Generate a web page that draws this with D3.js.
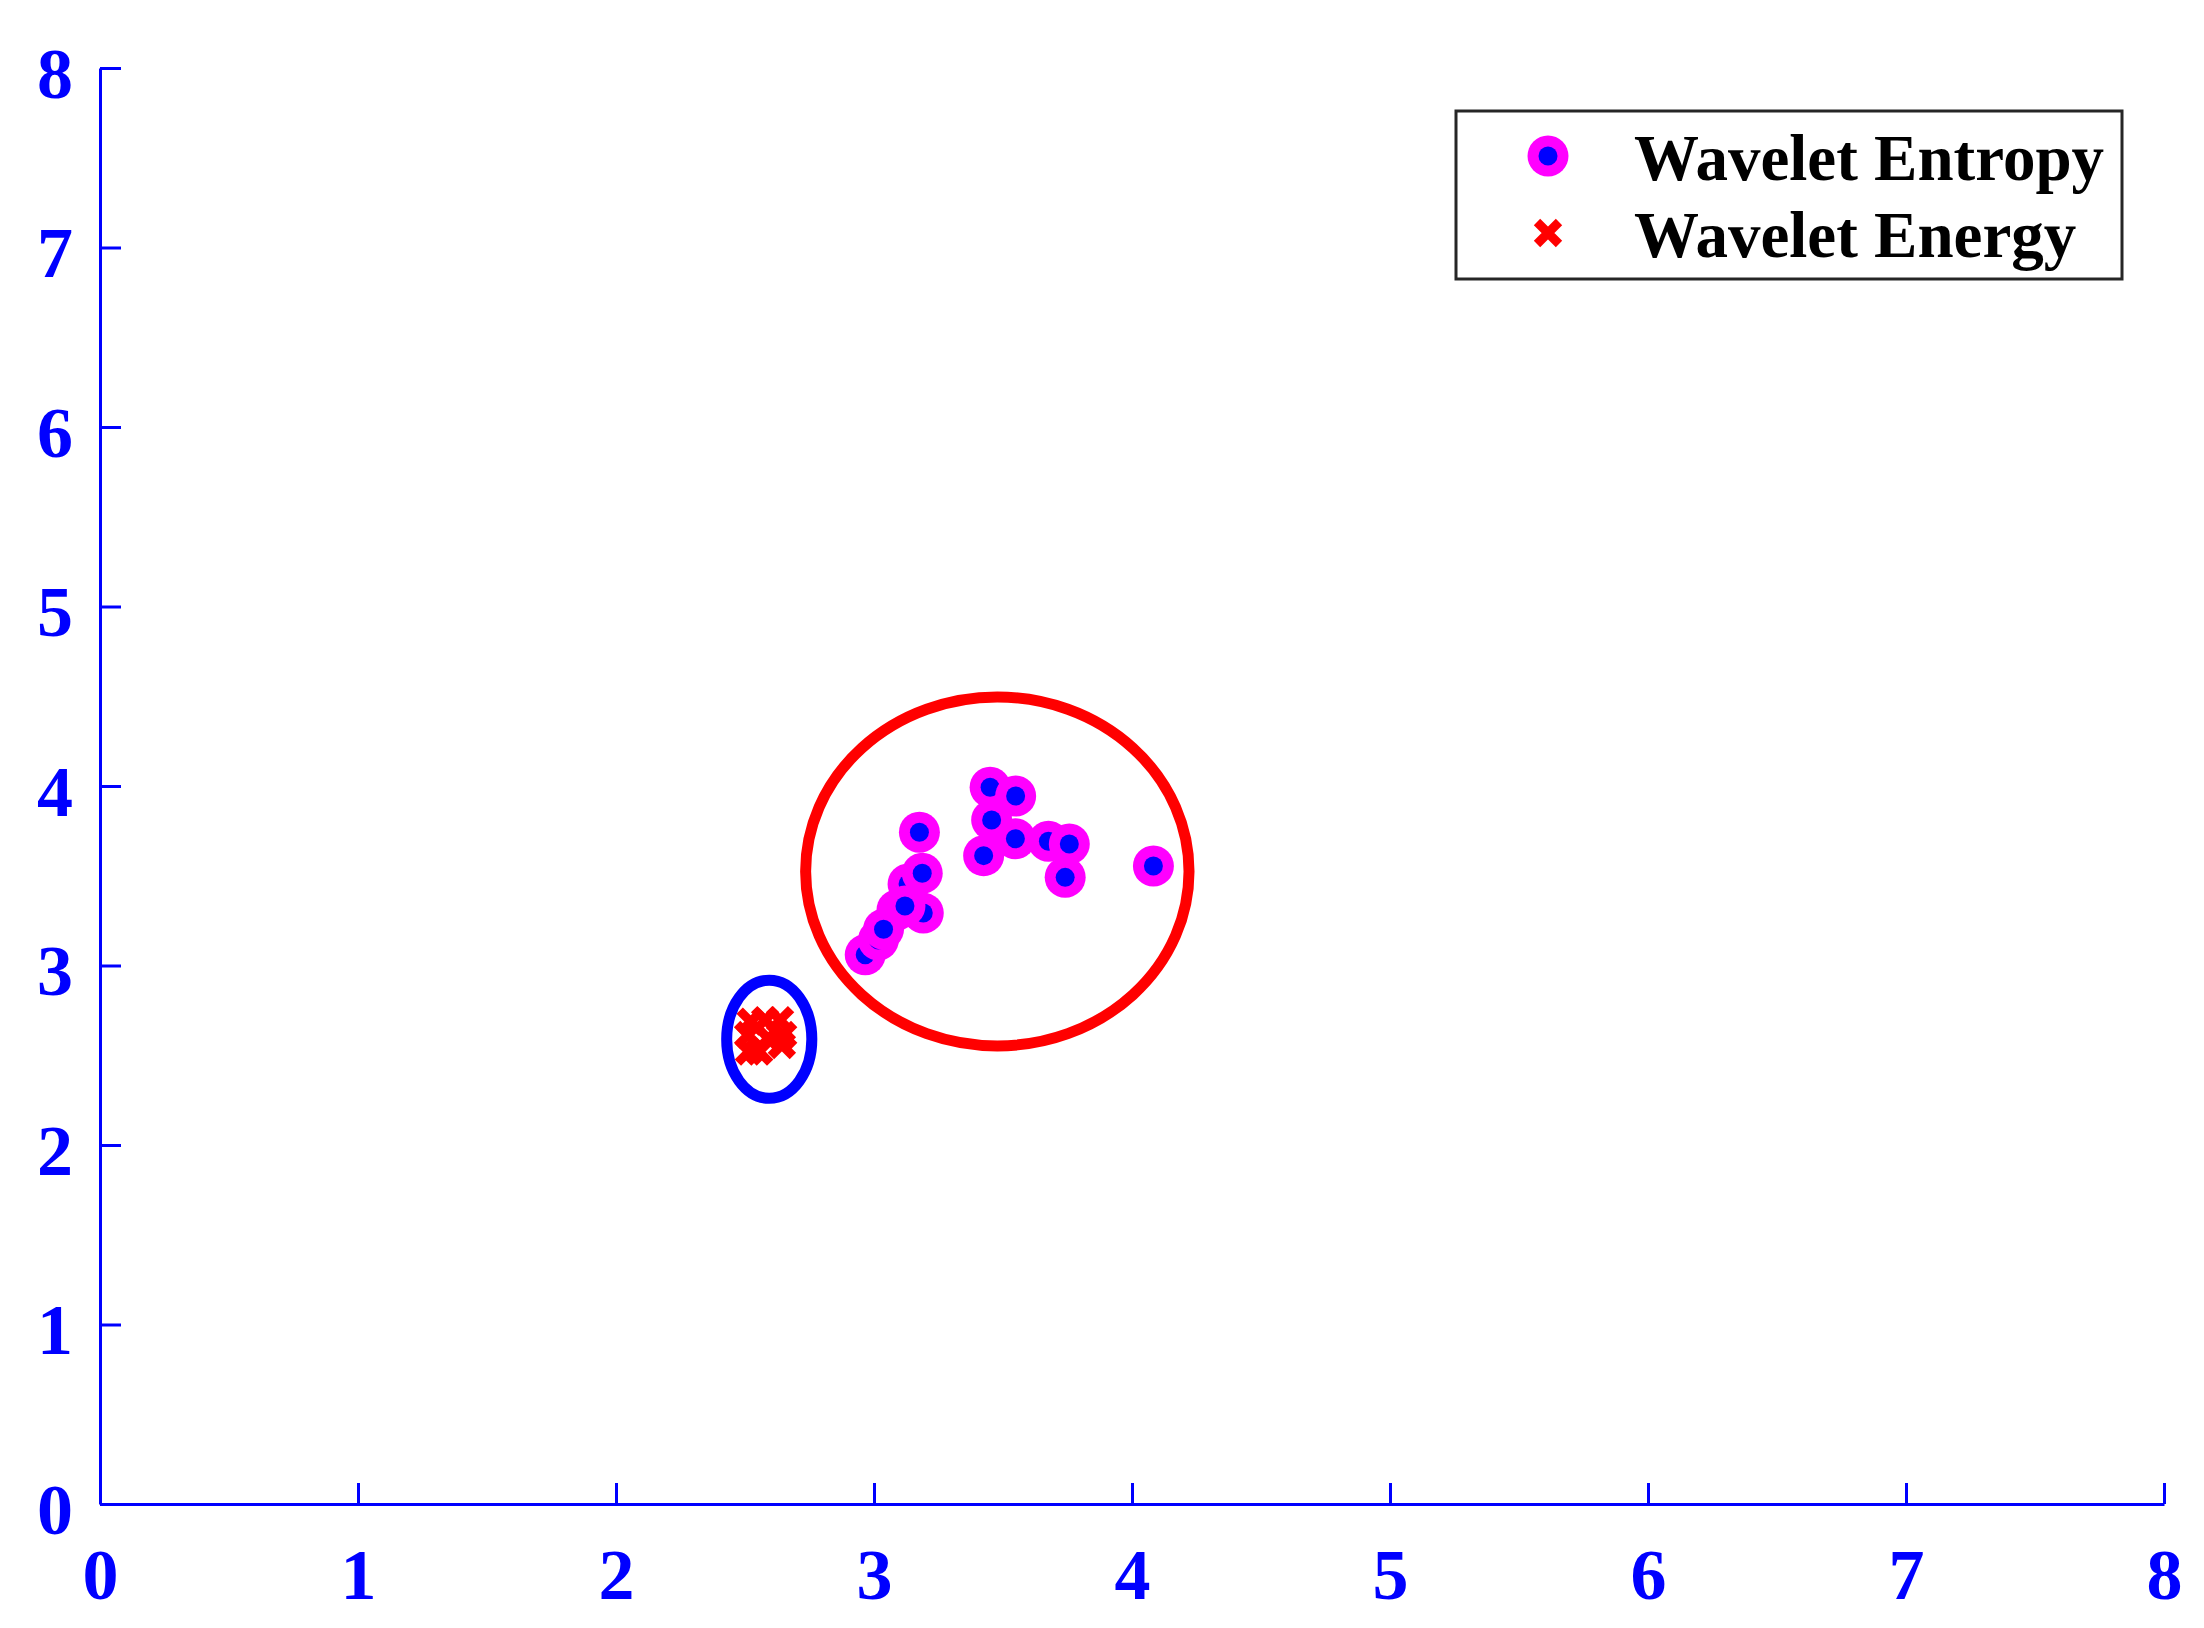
<!DOCTYPE html>
<html>
<head>
<meta charset="utf-8">
<script src="https://cdn.jsdelivr.net/npm/d3@7"></script>
<style>
  html, body { margin: 0; padding: 0; background: #fff; }
  svg { display: block; }
</style>
</head>
<body>
<script>
// ---- Data ----
const xTicks = [0, 1, 2, 3, 4, 5, 6, 7, 8];
const yTicks = [0, 1, 2, 3, 4, 5, 6, 7, 8];

// Wavelet Entropy points (drawing order matters for overlap)
const entropyX = [3.089, 3.191, 3.132, 3.120, 2.966, 3.017, 3.037, 3.187, 3.176,
                  3.425, 3.456, 3.450, 3.549, 3.548, 3.676, 3.757, 3.741, 4.083];
const entropyY = [3.309, 3.292, 3.454, 3.331, 3.060, 3.142, 3.202, 3.514, 3.742,
                  3.612, 3.811, 3.993, 3.944, 3.706, 3.692, 3.677, 3.491, 3.554];

// Wavelet Energy points
const energyX = [2.522, 2.578, 2.636, 2.648, 2.643, 2.555, 2.515, 2.512, 2.590];
const energyY = [2.687, 2.696, 2.696, 2.613, 2.557, 2.520, 2.520, 2.613, 2.594];

// Cluster ellipses: centre and radii in data units
const ellipseNames = ["entropy", "energy"];
const ellipseCX = [3.478, 2.594];
const ellipseCY = [3.524, 2.589];
const ellipseRX = [0.743, 0.165];
const ellipseRY = [0.972, 0.329];
const ellipseColors = ["#ff0000", "#0000ff"];

const legendLabels = ["Wavelet Entropy", "Wavelet Energy"];

// ---- Layout ----
const W = 2204, H = 1628;
const plotLeft = 100, plotRight = 2164, plotTop = 68, plotBottom = 1504;
const axisColor = "#0000ff";
const fontFam = "'Liberation Serif', 'Times New Roman', Times, serif";

const svg = d3.select("body").append("svg")
  .attr("width", W).attr("height", H)
  .attr("viewBox", `0 0 ${W} ${H}`);
svg.append("rect").attr("width", W).attr("height", H).attr("fill", "#fff");

const x = d3.scaleLinear().domain([0, 8]).range([plotLeft, plotRight]);
const y = d3.scaleLinear().domain([0, 8]).range([plotBottom, plotTop]);

// ---- Axes ----
const xAxis = svg.append("g")
  .attr("transform", `translate(0,${plotBottom})`)
  .call(d3.axisBottom(x).tickValues(xTicks).tickFormat(d3.format("d"))
        .tickSizeInner(-21).tickSizeOuter(0));
const yAxis = svg.append("g")
  .attr("transform", `translate(${plotLeft},0)`)
  .call(d3.axisLeft(y).tickValues(yTicks).tickFormat(d3.format("d"))
        .tickSizeInner(-21).tickSizeOuter(0));

[xAxis, yAxis].forEach(g => {
  g.select(".domain").attr("stroke", axisColor).attr("stroke-width", 3);
  g.selectAll(".tick line").attr("stroke", axisColor).attr("stroke-width", 3);
  g.selectAll(".tick text")
    .attr("fill", axisColor)
    .attr("font-family", fontFam)
    .attr("font-weight", "bold")
    .attr("font-size", 72);
});
xAxis.selectAll(".tick text").attr("y", 95).attr("dy", 0).attr("text-anchor", "middle");
yAxis.selectAll(".tick text").attr("x", -27).attr("y", 29).attr("dy", 0).attr("text-anchor", "end");

// ---- Marks ----
const xPath = "M-11,-11L11,11M-11,11L11,-11";

const entropy = entropyX.map((v, i) => ({ x: v, y: entropyY[i] }));
const energy = energyX.map((v, i) => ({ x: v, y: energyY[i] }));

const eg = svg.append("g");
const pts = eg.selectAll("g.pt").data(entropy).join("g")
  .attr("class", "pt")
  .attr("transform", d => `translate(${x(d.x)},${y(d.y)})`);
pts.append("circle").attr("r", 20.5).attr("fill", "#ff00ff");
pts.append("circle").attr("r", 9.5).attr("fill", "#0000ff");

svg.append("g").selectAll("path").data(energy).join("path")
  .attr("transform", d => `translate(${x(d.x)},${y(d.y)})`)
  .attr("d", xPath)
  .attr("stroke", "#ff0000")
  .attr("stroke-width", 9)
  .attr("fill", "none");

// ---- Ellipses ----
const ellipses = ellipseNames.map((n, i) => ({
  cx: ellipseCX[i], cy: ellipseCY[i], rx: ellipseRX[i], ry: ellipseRY[i], c: ellipseColors[i]
}));
svg.append("g").selectAll("ellipse").data(ellipses).join("ellipse")
  .attr("cx", d => x(d.cx))
  .attr("cy", d => y(d.cy))
  .attr("rx", d => x(d.cx + d.rx) - x(d.cx))
  .attr("ry", d => y(d.cy) - y(d.cy + d.ry))
  .attr("fill", "none")
  .attr("stroke", d => d.c)
  .attr("stroke-width", 11);

// ---- Legend ----
const lg = svg.append("g");
lg.append("rect")
  .attr("x", 1456).attr("y", 111).attr("width", 666).attr("height", 168)
  .attr("fill", "#fff").attr("stroke", "#262626").attr("stroke-width", 3);

const m1 = lg.append("g").attr("transform", "translate(1548,156)");
m1.append("circle").attr("r", 20.5).attr("fill", "#ff00ff");
m1.append("circle").attr("r", 9.5).attr("fill", "#0000ff");

lg.append("path")
  .attr("transform", "translate(1548,233)")
  .attr("d", xPath)
  .attr("stroke", "#ff0000").attr("stroke-width", 9).attr("fill", "none");

const baselines = [180, 257];
legendLabels.forEach((t, i) => {
  lg.append("text")
    .attr("x", 1634).attr("y", baselines[i])
    .attr("font-family", fontFam)
    .attr("font-weight", "bold")
    .attr("font-size", 65)
    .attr("fill", "#000")
    .text(t);
});
</script>
</body>
</html>
